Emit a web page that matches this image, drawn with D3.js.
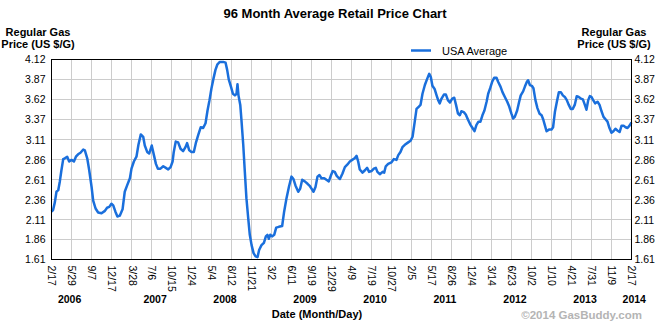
<!DOCTYPE html>
<html>
<head>
<meta charset="utf-8">
<script src="https://cdn.jsdelivr.net/npm/d3@7"></script>
<style>
  body { margin: 0; background: #fff; }
  text { font-family: "Liberation Sans", Arial, sans-serif; }
</style>
</head>
<body>
<svg id="chart" width="670" height="325"></svg>
<script>
// weekly-ish readings of the USA average (date, $/gal)
var dates = [
  "2006-02-17","2006-02-25","2006-03-06","2006-03-14","2006-03-23","2006-03-31","2006-04-08","2006-04-17","2006-04-25","2006-05-07",
  "2006-05-17","2006-05-29","2006-06-10","2006-06-20","2006-07-01","2006-07-13","2006-07-27","2006-08-04","2006-08-16","2006-08-26",
  "2006-09-07","2006-09-15","2006-09-27","2006-10-10","2006-10-27","2006-11-13","2006-11-24","2006-12-05","2006-12-16","2006-12-25",
  "2007-01-05","2007-01-15","2007-01-27","2007-02-10","2007-02-21","2007-03-05","2007-03-19","2007-03-27","2007-04-08","2007-04-21",
  "2007-05-01","2007-05-13","2007-05-25","2007-06-02","2007-06-14","2007-06-24","2007-07-07","2007-07-18","2007-07-28","2007-08-07",
  "2007-08-20","2007-09-03","2007-09-16","2007-09-28","2007-10-10","2007-10-20","2007-10-26","2007-11-05","2007-11-17","2007-11-29",
  "2007-12-12","2007-12-24","2008-01-01","2008-01-12","2008-01-23","2008-02-04","2008-02-14","2008-02-26","2008-03-10","2008-03-22",
  "2008-04-03","2008-04-13","2008-04-23","2008-05-03","2008-05-13","2008-05-23","2008-06-02","2008-06-14","2008-07-01","2008-07-13",
  "2008-07-21","2008-07-29","2008-08-09","2008-08-19","2008-08-29","2008-09-06","2008-09-11","2008-09-16","2008-09-25","2008-10-01",
  "2008-10-10","2008-10-18","2008-10-26","2008-11-04","2008-11-12","2008-11-21","2008-12-01","2008-12-11","2008-12-21","2008-12-29",
  "2009-01-10","2009-01-22","2009-02-01","2009-02-09","2009-02-16","2009-02-23","2009-03-05","2009-03-15","2009-03-25","2009-04-07",
  "2009-04-24","2009-05-04","2009-05-16","2009-05-28","2009-06-10","2009-06-20","2009-06-30","2009-07-14","2009-07-24","2009-08-03",
  "2009-08-16","2009-08-30","2009-09-11","2009-09-19","2009-09-29","2009-10-09","2009-10-19","2009-10-29","2009-11-08","2009-11-22",
  "2009-12-03","2009-12-15","2009-12-25","2010-01-04","2010-01-14","2010-01-24","2010-02-04","2010-02-09","2010-02-22","2010-03-06",
  "2010-03-18","2010-03-31","2010-04-12","2010-04-24","2010-05-04","2010-05-12","2010-05-20","2010-06-03","2010-06-15","2010-06-26",
  "2010-07-06","2010-07-18","2010-07-30","2010-08-09","2010-08-17","2010-08-29","2010-09-12","2010-09-20","2010-09-28","2010-10-10",
  "2010-10-27","2010-11-08","2010-11-21","2010-11-30","2010-12-11","2010-12-21","2011-01-02","2011-01-19","2011-01-31","2011-02-10",
  "2011-02-21","2011-03-02","2011-03-14","2011-03-22","2011-04-01","2011-04-13","2011-04-25","2011-05-05","2011-05-13","2011-05-21",
  "2011-06-01","2011-06-11","2011-06-19","2011-06-27","2011-07-06","2011-07-18","2011-07-28","2011-08-07","2011-08-17","2011-08-29",
  "2011-09-08","2011-09-17","2011-09-27","2011-10-06","2011-10-14","2011-10-26","2011-11-05","2011-11-17","2011-11-29","2011-12-09",
  "2011-12-19","2011-12-29","2012-01-08","2012-01-18","2012-01-28","2012-02-07","2012-02-18","2012-02-26","2012-03-07","2012-03-17",
  "2012-03-27","2012-04-08","2012-04-16","2012-04-28","2012-05-08","2012-05-20","2012-06-01","2012-06-11","2012-06-22","2012-07-01",
  "2012-07-09","2012-07-21","2012-07-31","2012-08-08","2012-08-20","2012-08-29","2012-09-08","2012-09-14","2012-09-23","2012-10-03",
  "2012-10-11","2012-10-21","2012-10-31","2012-11-11","2012-11-21","2012-11-29","2012-12-07","2012-12-16","2012-12-28","2013-01-10",
  "2013-01-18","2013-01-27","2013-02-06","2013-02-16","2013-02-26","2013-03-08","2013-03-18","2013-03-28","2013-04-07","2013-04-17",
  "2013-04-27","2013-05-07","2013-05-17","2013-05-27","2013-06-07","2013-06-17","2013-06-27","2013-07-05","2013-07-14","2013-07-22",
  "2013-07-30","2013-08-08","2013-08-18","2013-08-30","2013-09-09","2013-09-19","2013-09-29","2013-10-09","2013-10-19","2013-10-29",
  "2013-11-08","2013-11-18","2013-11-28","2013-12-08","2013-12-19","2013-12-29","2014-01-08","2014-01-18","2014-01-28","2014-02-07",
  "2014-02-17"
];
var usaAverage = [
  2.21,2.23,2.33,2.46,2.48,2.59,2.73,2.87,2.88,2.90,
  2.84,2.86,2.84,2.90,2.93,2.95,2.99,2.98,2.88,2.73,
  2.52,2.35,2.25,2.20,2.19,2.22,2.26,2.27,2.31,2.29,
  2.21,2.15,2.16,2.24,2.46,2.54,2.63,2.75,2.84,2.90,
  3.05,3.18,3.15,3.04,2.96,2.94,3.04,2.92,2.81,2.75,
  2.75,2.78,2.76,2.74,2.77,2.84,2.96,3.09,3.08,3.00,
  2.97,3.02,3.07,2.98,2.96,2.96,3.07,3.17,3.27,3.26,
  3.32,3.48,3.61,3.76,3.88,3.99,4.06,4.09,4.09,4.08,
  3.99,3.87,3.78,3.69,3.67,3.69,3.81,3.67,3.55,3.36,
  3.05,2.71,2.38,2.13,1.92,1.79,1.69,1.65,1.64,1.73,
  1.79,1.82,1.90,1.92,1.87,1.92,1.90,1.92,2.01,2.02,
  2.03,2.21,2.38,2.52,2.65,2.62,2.54,2.46,2.50,2.61,
  2.59,2.56,2.53,2.50,2.46,2.52,2.65,2.67,2.63,2.63,
  2.61,2.59,2.66,2.72,2.71,2.66,2.63,2.62,2.69,2.77,
  2.80,2.84,2.86,2.88,2.91,2.84,2.74,2.70,2.73,2.76,
  2.71,2.72,2.75,2.76,2.71,2.68,2.71,2.70,2.78,2.81,
  2.83,2.87,2.86,2.92,2.96,3.02,3.05,3.08,3.10,3.15,
  3.34,3.50,3.53,3.55,3.69,3.80,3.88,3.94,3.90,3.79,
  3.75,3.67,3.61,3.57,3.63,3.68,3.68,3.61,3.58,3.63,
  3.64,3.55,3.44,3.42,3.47,3.46,3.43,3.36,3.30,3.26,
  3.22,3.30,3.34,3.34,3.42,3.48,3.59,3.69,3.76,3.84,
  3.89,3.89,3.84,3.78,3.71,3.65,3.59,3.53,3.44,3.38,
  3.40,3.48,3.59,3.67,3.72,3.78,3.84,3.86,3.80,3.79,
  3.76,3.61,3.51,3.44,3.42,3.37,3.30,3.22,3.24,3.24,
  3.27,3.46,3.59,3.71,3.71,3.67,3.65,3.61,3.55,3.50,
  3.50,3.55,3.66,3.65,3.63,3.62,3.55,3.49,3.61,3.66,
  3.65,3.61,3.57,3.59,3.55,3.47,3.40,3.37,3.34,3.26,
  3.20,3.22,3.25,3.23,3.21,3.29,3.29,3.27,3.26,3.29,
  3.33
];

// x tick dates (labels are month/day)
var tickDates = [
  "2006-02-17","2006-05-29","2006-09-07","2006-12-17","2007-03-28","2007-07-06","2007-10-15","2008-01-24",
  "2008-05-04","2008-08-12","2008-11-21","2009-03-02","2009-06-11","2009-09-19","2009-12-29","2010-04-09",
  "2010-07-19","2010-10-27","2011-02-05","2011-05-17","2011-08-26","2011-12-04","2012-03-14","2012-06-23",
  "2012-10-02","2013-01-10","2013-04-21","2013-07-31","2013-11-09","2014-02-17"
];
var yearLabels = ["2006","2007","2008","2009","2010","2011","2012","2013","2014"];
var yearLabelDates = ["2006-05-19","2007-07-24","2008-07-10","2009-08-17","2010-08-05","2011-07-23","2012-07-10","2013-06-28","2014-03-03"];
var yTicks = [1.61, 1.86, 2.11, 2.36, 2.61, 2.86, 3.11, 3.37, 3.62, 3.87, 4.12];

var parse = d3.utcParse("%Y-%m-%d");
var fmt = d3.utcFormat("%-m/%-d");

var data = dates.map(function(d, i) { return {date: parse(d), price: usaAverage[i]}; });

var plot = {left: 51.5, right: 631.5, top: 59.5, bottom: 259.5};
var lineColor = "#1a6fdc";

var x = d3.scaleUtc()
    .domain([parse("2006-02-17"), parse("2014-02-17")])
    .range([plot.left, plot.right]);
var y = d3.scaleLinear()
    .domain([1.61, 4.12])
    .range([plot.bottom, plot.top]);

var svg = d3.select("#chart");

svg.append("rect").attr("width", 670).attr("height", 325).attr("fill", "#fff");

// grid
var snap = function(v) { return Math.round(v - 0.5) + 0.5; };
svg.append("g").selectAll("line")
    .data(tickDates.map(parse))
  .enter().append("line")
    .attr("x1", function(d) { return snap(x(d)); })
    .attr("x2", function(d) { return snap(x(d)); })
    .attr("y1", plot.top).attr("y2", plot.bottom)
    .attr("stroke", "#cccccc").attr("stroke-width", 1);
svg.append("g").selectAll("line")
    .data(yTicks)
  .enter().append("line")
    .attr("x1", plot.left).attr("x2", plot.right)
    .attr("y1", function(d) { return snap(y(d)); })
    .attr("y2", function(d) { return snap(y(d)); })
    .attr("stroke", "#cccccc").attr("stroke-width", 1);

// price line
var line = d3.line()
    .x(function(d) { return x(d.date); })
    .y(function(d) { return y(d.price); });
svg.append("path")
    .datum(data)
    .attr("d", line)
    .attr("fill", "none")
    .attr("stroke", lineColor)
    .attr("stroke-width", 2.5)
    .attr("stroke-linejoin", "round");

// frame
svg.append("rect")
    .attr("x", plot.left).attr("y", plot.top)
    .attr("width", plot.right - plot.left).attr("height", plot.bottom - plot.top)
    .attr("fill", "none").attr("stroke", "#000").attr("stroke-width", 1);

// y labels, both sides
var yAxisLeft = d3.axisLeft(y).tickValues(yTicks).tickSize(0).tickPadding(6).tickFormat(d3.format(".2f"));
var yAxisRight = d3.axisRight(y).tickValues(yTicks).tickSize(0).tickPadding(3).tickFormat(d3.format(".2f"));
[[yAxisLeft, plot.left], [yAxisRight, plot.right]].forEach(function(a) {
  var g = svg.append("g")
      .attr("transform", "translate(" + a[1] + ",0)")
      .call(a[0]);
  g.select(".domain").remove();
  g.selectAll("text").attr("font-size", "10.5px").attr("fill", "#000")
      .attr("font-family", "'Liberation Sans', Arial, sans-serif");
});

// x labels, rotated
var xAxis = d3.axisBottom(x).tickValues(tickDates.map(parse)).tickSize(0).tickFormat(fmt);
var gx = svg.append("g")
    .attr("transform", "translate(0," + plot.bottom + ")")
    .call(xAxis);
gx.select(".domain").remove();
gx.selectAll("text")
    .attr("font-size", "10.5px").attr("fill", "#000")
    .attr("font-family", "'Liberation Sans', Arial, sans-serif")
    .attr("text-anchor", "start")
    .attr("dy", "0.35em")
    .attr("y", 0).attr("x", 6)
    .attr("transform", "rotate(90)");

// year labels
svg.append("g").selectAll("text")
    .data(yearLabels)
  .enter().append("text")
    .attr("x", function(d, i) { return x(parse(yearLabelDates[i])); })
    .attr("y", 303)
    .attr("text-anchor", "middle")
    .attr("font-size", "10.5px").attr("font-weight", "bold")
    .text(function(d) { return d; });

// titles
svg.append("text").attr("x", 335).attr("y", 18).attr("text-anchor", "middle")
    .attr("font-size", "13px").attr("font-weight", "bold")
    .text("96 Month Average Retail Price Chart");

[38, 614].forEach(function(cx) {
  var t = svg.append("text").attr("text-anchor", "middle")
      .attr("font-size", "11px").attr("font-weight", "bold");
  t.append("tspan").attr("x", cx).attr("y", 36).text("Regular Gas");
  t.append("tspan").attr("x", cx).attr("y", 48).text("Price (US $/G)");
});

svg.append("text").attr("x", 317).attr("y", 318).attr("text-anchor", "middle")
    .attr("font-size", "11px").attr("font-weight", "bold")
    .text("Date (Month/Day)");

svg.append("text").attr("x", 642).attr("y", 319).attr("text-anchor", "end")
    .attr("font-size", "11.5px").attr("font-weight", "bold").attr("fill", "#b4b4b4")
    .text("\u00a92014 GasBuddy.com");

// legend
svg.append("line").attr("x1", 411).attr("x2", 431).attr("y1", 50.5).attr("y2", 50.5)
    .attr("stroke", lineColor).attr("stroke-width", 2.5);
svg.append("text").attr("x", 442).attr("y", 54.5)
    .attr("font-size", "11px")
    .text("USA Average");
</script>
</body>
</html>
